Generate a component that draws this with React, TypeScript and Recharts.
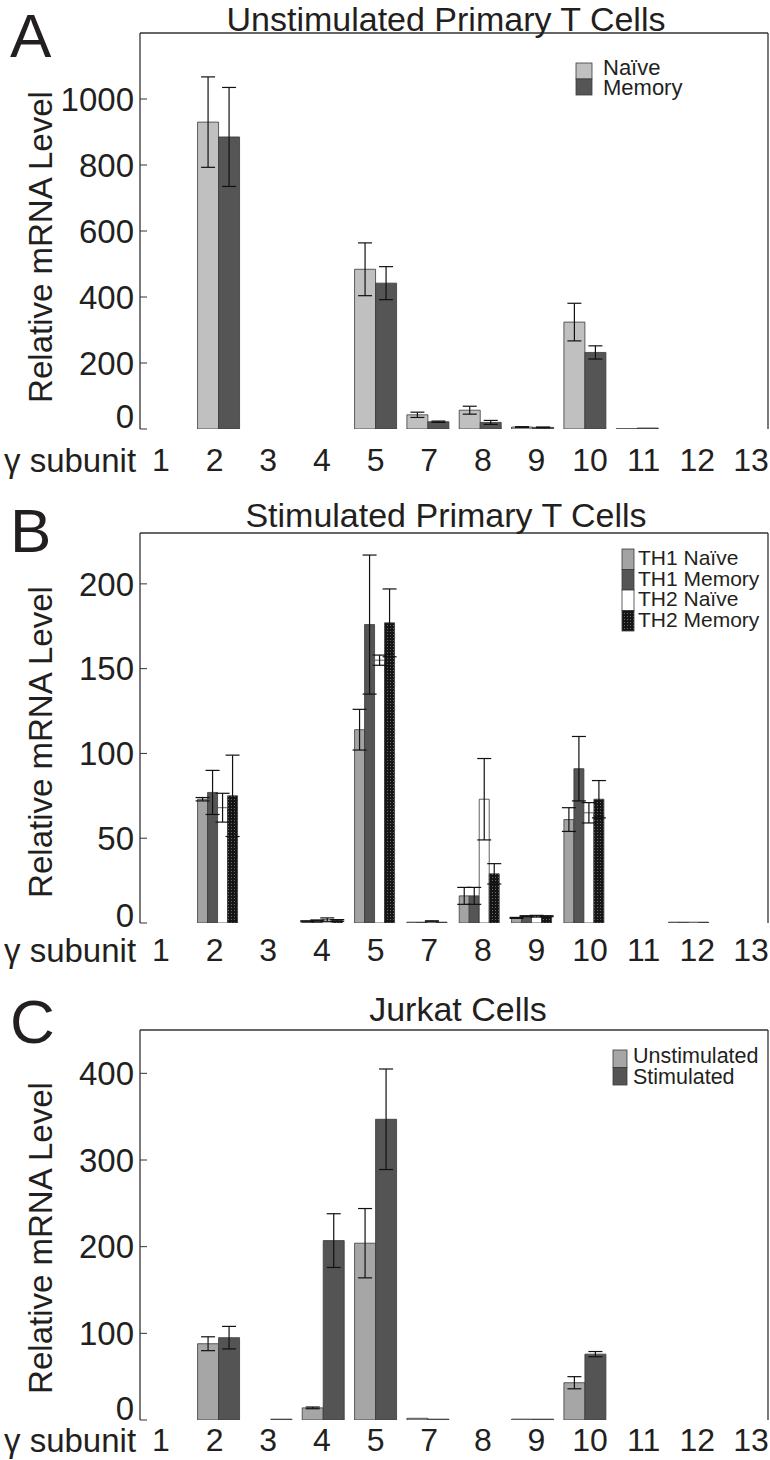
import React from 'react';
import { BarChart, Bar, XAxis, YAxis, ErrorBar, ReferenceLine, Legend } from 'recharts';

// ---------- data ----------
const categories = ['1', '2', '3', '4', '5', '7', '8', '9', '10', '11', '12', '13'];

// Panel A: Unstimulated Primary T Cells
const naiveA = [0, 930, 0, 0, 484, 43, 57, 6, 324, 1, 0, 0];
const naiveAErr = [0, 137, 0, 0, 80, 8, 12, 1, 57, 0, 0, 0];
const memoryA = [0, 885, 0, 0, 442, 22, 20, 5, 232, 3, 0, 0];
const memoryAErr = [0, 150, 0, 0, 50, 2, 6, 1, 20, 0, 0, 0];
const ticksA = [0, 200, 400, 600, 800, 1000];

// Panel B: Stimulated Primary T Cells
const th1NaiveB = [0, 73, 0, 1, 114, 0.5, 16, 3, 61, 0, 0.5, 0];
const th1NaiveBErr = [0, 1, 0, 0.3, 12, 0, 5, 0.3, 7, 0, 0, 0];
const th1MemoryB = [0, 77, 0, 1.5, 176, 0.5, 16, 4, 91, 0, 0.5, 0];
const th1MemoryBErr = [0, 13, 0, 0.3, 41, 0, 5, 0.3, 19, 0, 0, 0];
const th2NaiveB = [0, 68, 0, 2, 155, 1, 73, 4, 65, 0, 0.5, 0];
const th2NaiveBErr = [0, 8.5, 0, 1, 3, 0.3, 24, 0.5, 6, 0, 0, 0];
const th2MemoryB = [0, 75, 0, 1.5, 177, 0.5, 29, 4, 73, 0, 0.5, 0];
const th2MemoryBErr = [0, 24, 0, 0.5, 20, 0, 6, 0.3, 11, 0, 0, 0];
const ticksB = [0, 50, 100, 150, 200];

// Panel C: Jurkat Cells
const unstimC = [0, 88, 0, 14, 204, 2, 0, 1, 43, 0, 0, 0];
const unstimCErr = [0, 8, 0, 1, 40, 0, 0, 0, 7, 0, 0, 0];
const stimC = [0, 95, 1, 207, 347, 1, 0, 1, 76, 0, 0, 0];
const stimCErr = [0, 13, 0, 31, 58, 0, 0, 0, 3, 0, 0, 0];
const ticksC = [0, 100, 200, 300, 400];

// ---------- styling ----------
const FONT = '"Liberation Sans", Arial, Helvetica, sans-serif';
const INK = '#231f20';
const FRAME = '#333333';

type Series = { key: string; name: string; fill: string; values: number[]; errors: number[] };

function buildRows(series: Series[]) {
  return categories.map((c, i) => {
    const row: any = { cat: c };
    series.forEach((s) => {
      row[s.key] = s.values[i];
      row[s.key + 'Err'] = s.errors[i] ? s.errors[i] : null;
    });
    return row;
  });
}

type LegendCfg = {
  sqX: number; sqTop: number; sqW: number; sqH: number;
  textX: number; textBase: number; step: number; fontSize: number;
};

type PanelProps = {
  top: number;
  marginTop: number;
  xAxisHeight: number;
  tickMargin: number;
  max: number;
  ticks: number[];
  zeroShift: number;
  series: Series[];
  legend: LegendCfg;
};

function Panel(p: PanelProps) {
  const data = buildRows(p.series);
  const lg = p.legend;
  const wrapLeft = lg.sqX - 4;
  const wrapTop = lg.sqTop - 20 - p.top;
  const order = p.series.map((s) => s.name);

  const yTick = (props: any) => {
    const { x, y, payload } = props;
    const v = payload.value;
    return (
      <text
        x={x}
        y={y + (v === 0 ? p.zeroShift : 0)}
        dy="0.355em"
        textAnchor="end"
        fontSize={33}
        fontFamily={FONT}
        fill={INK}
      >
        {v}
      </text>
    );
  };

  const legendContent = (props: any) => {
    const payload = [...(props.payload || [])].sort(
      (a: any, b: any) => order.indexOf(a.value) - order.indexOf(b.value)
    );
    return (
      <svg width={200} height={120} style={{ overflow: 'visible', display: 'block' }}>
        {payload.map((item: any, i: number) => (
          <g key={i}>
            <rect
              x={lg.sqX - wrapLeft}
              y={lg.sqTop - p.top - wrapTop + i * lg.sqH}
              width={lg.sqW}
              height={lg.sqH}
              fill={item.color}
              stroke="#3a3a3a"
              strokeWidth={0.8}
            />
            <text
              x={lg.textX - wrapLeft}
              y={lg.textBase - p.top - wrapTop + i * lg.step}
              fontSize={lg.fontSize}
              fontFamily={FONT}
              fill={INK}
            >
              {item.value}
            </text>
          </g>
        ))}
      </svg>
    );
  };

  return (
    <div style={{ position: 'absolute', left: 0, top: p.top, width: 770, height: 480 }}>
      <BarChart
        width={770}
        height={480}
        data={data}
        margin={{ top: p.marginTop, right: 1, bottom: 0, left: 0 }}
        barCategoryGap="10%"
        barGap={0}
      >
        <XAxis
          xAxisId="bar"
          dataKey="cat"
          height={0}
          tick={false}
          tickLine={false}
          axisLine={{ stroke: FRAME, strokeWidth: 1.3 }}
        />
        <XAxis
          xAxisId="lab"
          dataKey="cat"
          scale="point"
          padding={{ left: 21, right: 17 }}
          height={p.xAxisHeight}
          axisLine={false}
          tickLine={false}
          tickSize={0}
          tickMargin={p.tickMargin}
          interval={0}
          tick={{ fontSize: 32, fill: INK, fontFamily: FONT }}
        />
        <YAxis
          yAxisId="l"
          width={140}
          domain={[0, p.max]}
          ticks={p.ticks}
          interval={0}
          tickSize={-7}
          tickMargin={13}
          tickLine={{ stroke: FRAME, strokeWidth: 1 }}
          axisLine={{ stroke: FRAME, strokeWidth: 1.3 }}
          tick={yTick}
          allowDataOverflow
        />
        <YAxis
          yAxisId="r"
          orientation="right"
          width={1}
          domain={[0, p.max]}
          ticks={p.ticks}
          interval={0}
          tickSize={-7}
          tickLine={{ stroke: FRAME, strokeWidth: 1 }}
          axisLine={{ stroke: FRAME, strokeWidth: 1.3 }}
          tick={false}
          allowDataOverflow
        />
        <ReferenceLine yAxisId="l" xAxisId="bar" y={p.max} stroke={FRAME} strokeWidth={1.3} />
        <Legend
          layout="vertical"
          align="center"
          verticalAlign="middle"
          wrapperStyle={{ left: wrapLeft, top: wrapTop, width: 200, height: 120 }}
          content={legendContent}
        />
        {p.series.map((s) => (
          <Bar
            key={s.key}
            dataKey={s.key}
            name={s.name}
            xAxisId="bar"
            yAxisId="l"
            fill={s.fill}
            stroke="#3a3a3a"
            strokeWidth={0.8}
            isAnimationActive={false}
          >
            <ErrorBar dataKey={s.key + 'Err'} width={7} stroke="#111" strokeWidth={1.2} direction="y" />
          </Bar>
        ))}
      </BarChart>
    </div>
  );
}

const seriesA: Series[] = [
  { key: 'naive', name: 'Naïve', fill: '#c0c0c0', values: naiveA, errors: naiveAErr },
  { key: 'memory', name: 'Memory', fill: '#555555', values: memoryA, errors: memoryAErr },
];
const seriesB: Series[] = [
  { key: 'th1n', name: 'TH1 Naïve', fill: '#a3a3a3', values: th1NaiveB, errors: th1NaiveBErr },
  { key: 'th1m', name: 'TH1 Memory', fill: '#555555', values: th1MemoryB, errors: th1MemoryBErr },
  { key: 'th2n', name: 'TH2 Naïve', fill: '#ffffff', values: th2NaiveB, errors: th2NaiveBErr },
  { key: 'th2m', name: 'TH2 Memory', fill: 'url(#checkB)', values: th2MemoryB, errors: th2MemoryBErr },
];
const seriesC: Series[] = [
  { key: 'unstim', name: 'Unstimulated', fill: '#a6a6a6', values: unstimC, errors: unstimCErr },
  { key: 'stim', name: 'Stimulated', fill: '#545454', values: stimC, errors: stimCErr },
];

function Overlay() {
  const letter = { fontSize: 62, fontFamily: FONT, fill: INK } as const;
  const title = { fontSize: 34, fontFamily: FONT, fill: INK, textAnchor: 'middle' } as const;
  const ylab = { fontSize: 33, fontFamily: FONT, fill: INK, textAnchor: 'middle' } as const;
  const xl = { fontSize: 33, fontFamily: FONT, fill: INK } as const;
  return (
    <svg
      width={770}
      height={1460}
      style={{ position: 'absolute', left: 0, top: 0, pointerEvents: 'none' }}
    >
      <defs>
        <pattern id="checkB" width={3} height={3} patternUnits="userSpaceOnUse">
          <rect width={3} height={3} fill="#151515" />
          <rect width={1} height={1} fill="#6a6a6a" />
        </pattern>
      </defs>
      <text x={10} y={57} {...letter}>A</text>
      <text x={10} y={552} {...letter}>B</text>
      <text x={10} y={1043} {...letter}>C</text>

      <text x={446} y={31} {...title}>Unstimulated Primary T Cells</text>
      <text x={446} y={527} {...title}>Stimulated Primary T Cells</text>
      <text x={458} y={1021} {...title}>Jurkat Cells</text>

      <text transform="translate(52,247) rotate(-90)" {...ylab}>Relative mRNA Level</text>
      <text transform="translate(52,742) rotate(-90)" {...ylab}>Relative mRNA Level</text>
      <text transform="translate(52,1238) rotate(-90)" {...ylab}>Relative mRNA Level</text>

      <text x={4} y={472} {...xl}>γ subunit</text>
      <text x={4} y={962} {...xl}>γ subunit</text>
      <text x={4} y={1452} {...xl}>γ subunit</text>
    </svg>
  );
}

export default function App() {
  return (
    <div style={{ position: 'absolute', left: 0, top: 0, width: 770, height: 1460, background: '#fff' }}>
      <Panel
        top={0}
        marginTop={33}
        xAxisHeight={51}
        tickMargin={19}
        max={1200}
        ticks={ticksA}
        zeroShift={-13}
        series={seriesA}
        legend={{ sqX: 576, sqTop: 63, sqW: 16, sqH: 16, textX: 603, textBase: 75, step: 20, fontSize: 22 }}
      />
      <Panel
        top={490}
        marginTop={43}
        xAxisHeight={47}
        tickMargin={15}
        max={230}
        ticks={ticksB}
        zeroShift={-8}
        series={seriesB}
        legend={{ sqX: 622, sqTop: 549, sqW: 12, sqH: 20.5, textX: 638, textBase: 565, step: 20.7, fontSize: 21 }}
      />
      <Panel
        top={980}
        marginTop={50}
        xAxisHeight={40}
        tickMargin={8}
        max={450}
        ticks={ticksC}
        zeroShift={-12}
        series={seriesC}
        legend={{ sqX: 613, sqTop: 1050, sqW: 14, sqH: 17.5, textX: 633, textBase: 1063, step: 20.5, fontSize: 21.5 }}
      />
      <Overlay />
    </div>
  );
}
